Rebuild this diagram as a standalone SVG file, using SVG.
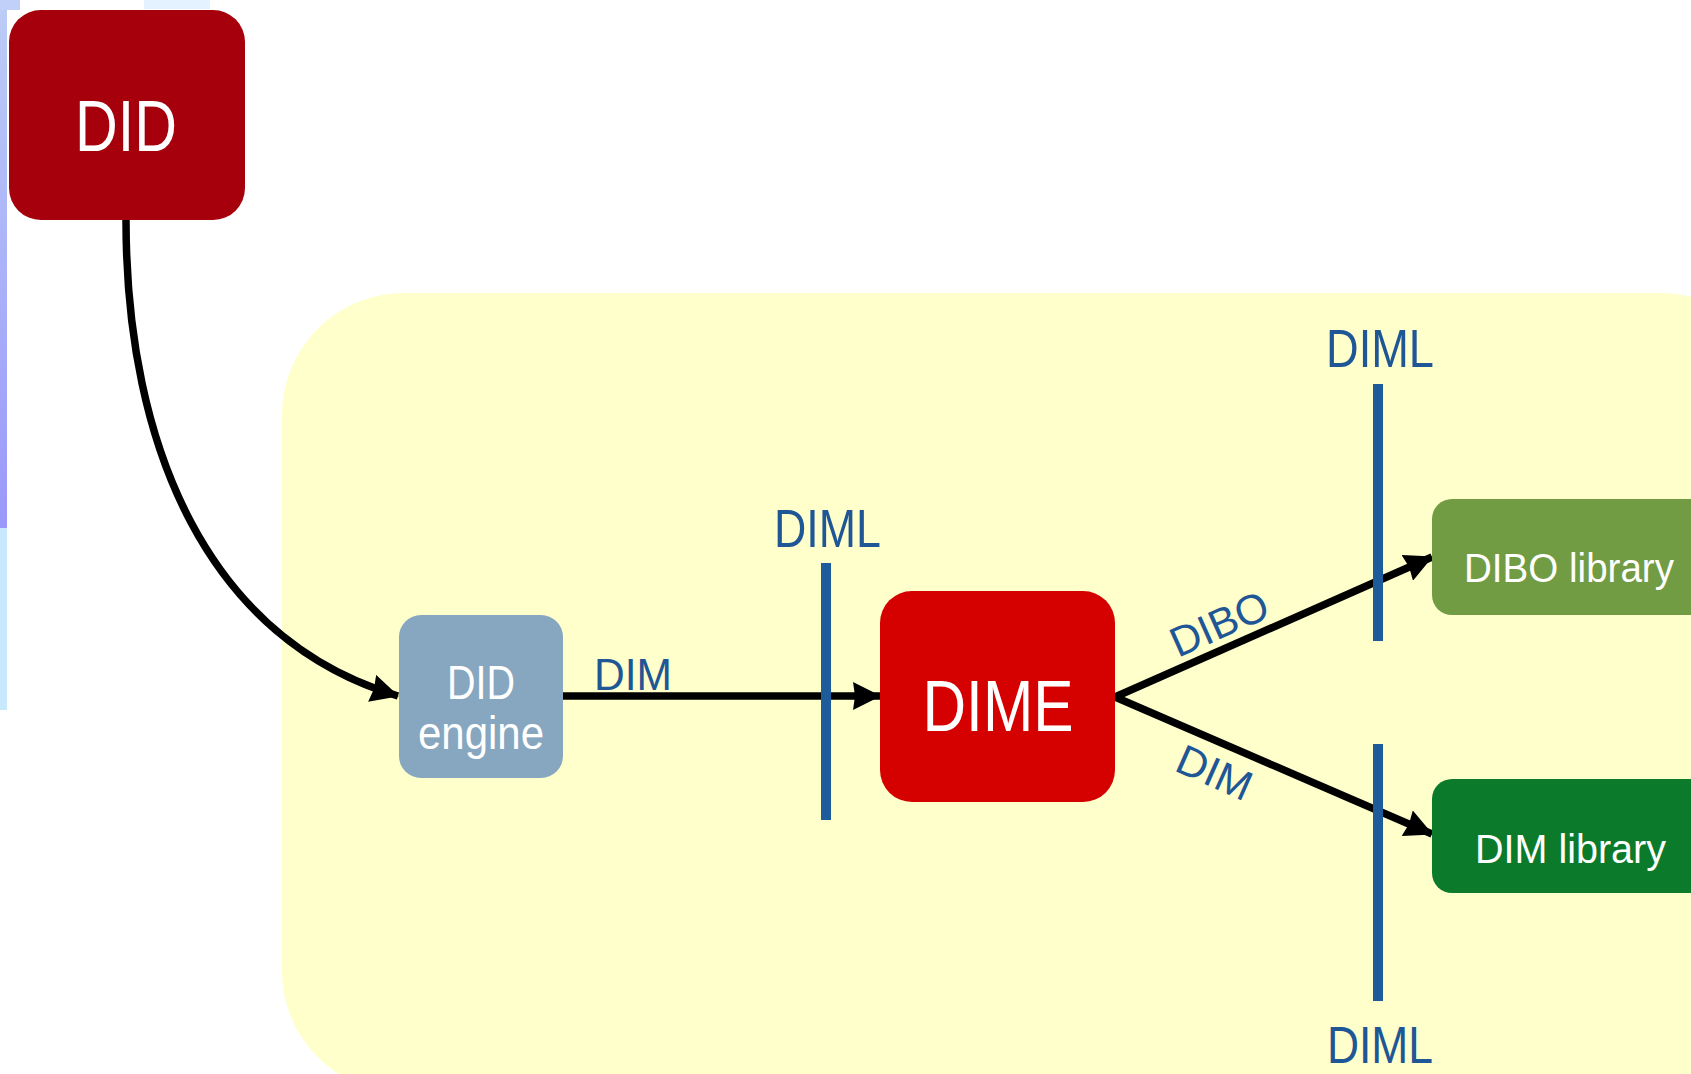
<svg xmlns="http://www.w3.org/2000/svg" width="1691" height="1074" viewBox="0 0 1691 1074">
  <defs>
    <linearGradient id="strip" x1="0" y1="0" x2="0" y2="1">
      <stop offset="0" stop-color="#bccdf6"/>
      <stop offset="1" stop-color="#9a98fa"/>
    </linearGradient>
    <marker id="arrow" markerUnits="userSpaceOnUse" markerWidth="28" markerHeight="28" viewBox="0 0 28 28" refX="27" refY="14" orient="auto">
      <path d="M0,0 L28,14 L0,28 L2,14 z" fill="#000"/>
    </marker>
  </defs>
  <style>
    .lbl { font-family: "Liberation Sans", Arial, sans-serif; fill: #1e5696; }
    .wt { font-family: "Liberation Sans", Arial, sans-serif; fill: #ffffff; }
    .bar { stroke: #1d5b9b; stroke-width: 10; fill: none; }
    .conn { stroke: #000; stroke-width: 7.5; fill: none; }
  </style>
  <rect x="0" y="0" width="1691" height="1074" fill="#ffffff"/>
  <!-- screenshot edge artefacts -->
  <rect x="0" y="0" width="7" height="528" fill="url(#strip)"/>
  <rect x="0" y="528" width="7" height="182" fill="#c8e8fb"/>
  <rect x="0" y="0" width="20" height="10" fill="#c0d0f8"/>
  <rect x="144" y="0" width="66" height="9" fill="#e4f2ff"/>

  <!-- container -->
  <g id="container">
    <rect x="282" y="293" width="1500" height="800" rx="122" ry="122" fill="#ffffcc"/>
  </g>

  <g id="connectors">
    <path class="conn" d="M126 220 C 126 450, 210 640, 398 696" marker-end="url(#arrow)"/>
    <line class="conn" x1="563" y1="696" x2="880" y2="696" marker-end="url(#arrow)"/>
    <line class="conn" x1="1115" y1="697" x2="1432" y2="557" marker-end="url(#arrow)"/>
    <line class="conn" x1="1115" y1="697" x2="1432" y2="834" marker-end="url(#arrow)"/>
  </g>

  <g id="diml-bars">
    <line class="bar" x1="826" y1="563" x2="826" y2="820"/>
    <line class="bar" x1="1378" y1="384" x2="1378" y2="641"/>
    <line class="bar" x1="1378" y1="744" x2="1378" y2="1001"/>
  </g>

  <g id="labels">
    <text class="lbl" x="594" y="690" font-size="44" textLength="78" lengthAdjust="spacingAndGlyphs">DIM</text>
    <text class="lbl" x="774" y="547" font-size="54" textLength="107" lengthAdjust="spacingAndGlyphs">DIML</text>
    <text class="lbl" x="1326" y="367" font-size="54" textLength="108" lengthAdjust="spacingAndGlyphs">DIML</text>
    <text class="lbl" x="1327" y="1063" font-size="51" textLength="106" lengthAdjust="spacingAndGlyphs">DIML</text>
    <text class="lbl" x="1178" y="658" font-size="42" textLength="103" lengthAdjust="spacingAndGlyphs" transform="rotate(-24 1178 658)">DIBO</text>
    <text class="lbl" x="1173" y="770" font-size="42" textLength="78" lengthAdjust="spacingAndGlyphs" transform="rotate(24 1173 770)">DIM</text>
  </g>

  <g id="node-did">
    <rect x="9" y="10" width="236" height="210" rx="32" ry="32" fill="#a5000b"/>
    <text class="wt" x="126" y="151" font-size="72" text-anchor="middle" textLength="102" lengthAdjust="spacingAndGlyphs">DID</text>
  </g>

  <g id="node-did-engine">
    <rect x="399" y="615" width="164" height="163" rx="22" ry="22" fill="#87a7c0"/>
    <text class="wt" x="481" y="699" font-size="48" text-anchor="middle" textLength="68" lengthAdjust="spacingAndGlyphs">DID</text>
    <text class="wt" x="481" y="749" font-size="46" text-anchor="middle" textLength="126" lengthAdjust="spacingAndGlyphs">engine</text>
  </g>

  <g id="node-dime">
    <rect x="880" y="591" width="235" height="211" rx="32" ry="32" fill="#d50000"/>
    <text class="wt" x="998" y="731" font-size="72" text-anchor="middle" textLength="151" lengthAdjust="spacingAndGlyphs">DIME</text>
  </g>

  <g id="node-dibo-library">
    <rect x="1432" y="499" width="300" height="116" rx="20" ry="20" fill="#729c44"/>
    <text class="wt" x="1464" y="582" font-size="40" textLength="210" lengthAdjust="spacingAndGlyphs">DIBO library</text>
  </g>

  <g id="node-dim-library">
    <rect x="1432" y="779" width="300" height="114" rx="20" ry="20" fill="#0b7b2b"/>
    <text class="wt" x="1475" y="863" font-size="40" textLength="191" lengthAdjust="spacingAndGlyphs">DIM library</text>
  </g>
</svg>
